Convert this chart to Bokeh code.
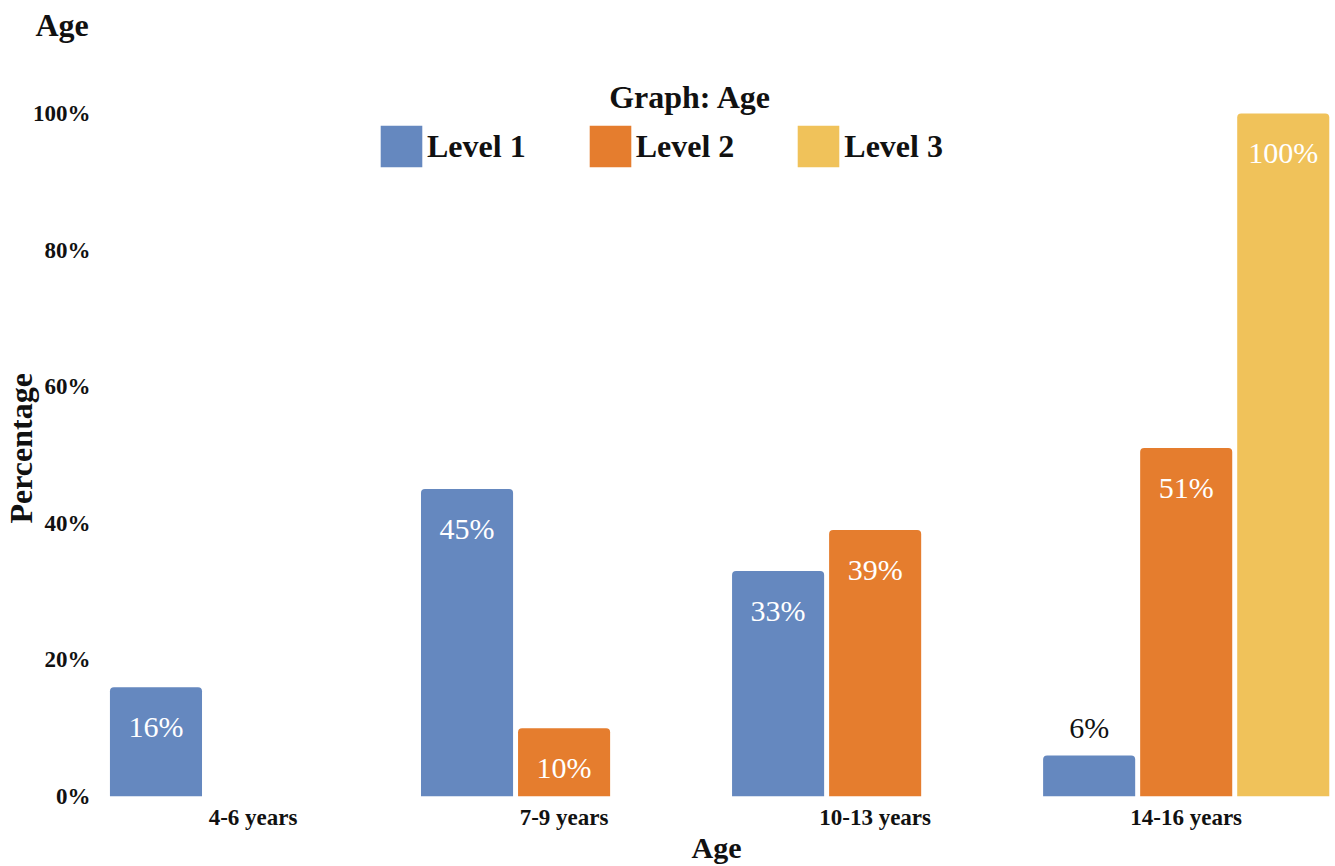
from bokeh.plotting import figure
from bokeh.models import ColumnDataSource, Range1d, FixedTicker, Label, Title
from bokeh.core.properties import value
from bokeh.embed import file_html
from bokeh.resources import INLINE

# Share of children at each level, by age group (percent)
categories = ["4-6 years", "7-9 years", "10-13 years", "14-16 years"]
series_names = ["Level 1", "Level 2", "Level 3"]
level_1 = [16, 45, 33, 6]
level_2 = [0, 10, 39, 51]
level_3 = [0, 0, 0, 100]
y_ticks = [0, 20, 40, 60, 80, 100]
y_tick_labels = ["0%", "20%", "40%", "60%", "80%", "100%"]
colors = ["#6588BF", "#E57D2E", "#F0C25A"]

FONT = "Liberation Serif"
INK = "#111111"
BAR_W = 0.296
STEP = 0.312

p = figure(width=1335, height=866, output_backend="svg", toolbar_location=None,
           x_range=Range1d(-0.5, 3.48), y_range=Range1d(0, 109.5),
           min_border_left=97, min_border_right=0, min_border_top=48,
           min_border_bottom=69)
p.outline_line_color = None
p.xgrid.visible = False
p.ygrid.visible = False
p.background_fill_color = "white"
p.border_fill_color = "white"

# bars, dodged around each category position
lab_x, lab_y, lab_text, lab_color, lab_dy = [], [], [], [], []
for i, (name, vals, color) in enumerate(zip(series_names, [level_1, level_2, level_3], colors)):
    offset = (i - 1) * STEP
    xs = [k + offset for k, v in enumerate(vals) if v > 0]
    tops = [v for v in vals if v > 0]
    src = ColumnDataSource(dict(x=xs, top=tops))
    p.vbar(x="x", top="top", width=BAR_W, source=src, fill_color=color,
           line_color=None, border_radius=(4, 4, 0, 0), legend_label=name)
    for x, v in zip(xs, tops):
        inside = v >= 8
        lab_x.append(x)
        lab_y.append(v)
        lab_text.append(f"{v}%")
        lab_color.append("white" if inside else INK)
        lab_dy.append(39 if inside else -28)

labels = ColumnDataSource(dict(x=lab_x, y=lab_y, text=lab_text, color=lab_color, dy=lab_dy))
p.text(x="x", y="y", text="text", source=labels, text_color="color", y_offset="dy",
       text_align="center", text_baseline="middle", text_font=value(FONT),
       text_font_size="30px")

# axes
p.xaxis.ticker = FixedTicker(ticks=list(range(len(categories))))
p.xaxis.major_label_overrides = {i: c for i, c in enumerate(categories)}
p.yaxis.ticker = FixedTicker(ticks=y_ticks)
p.yaxis.major_label_overrides = dict(zip(y_ticks, y_tick_labels))
for ax in (p.xaxis[0], p.yaxis[0]):
    ax.axis_line_color = None
    ax.major_tick_line_color = None
    ax.minor_tick_line_color = None
    ax.major_tick_out = 0
    ax.major_tick_in = 0
    ax.minor_tick_out = 0
    ax.major_label_text_font = FONT
    ax.major_label_text_font_style = "bold"
    ax.major_label_text_font_size = "23px"
    ax.major_label_text_color = INK
    ax.axis_label_text_font = FONT
    ax.axis_label_text_font_style = "bold"
    ax.axis_label_text_color = INK
p.xaxis.axis_label = "Age"
p.xaxis.axis_label_text_font_size = "30px"
p.xaxis.major_label_standoff = 8
p.xaxis.axis_label_standoff = -2
p.yaxis.major_label_standoff = 7

# y axis title, placed along the 0-100 span
p.add_layout(Title(text="Percentage", align="left", offset=273, vertical_align="middle",
                   standoff=-21, text_font=FONT, text_font_style="bold",
                   text_font_size="32px", text_color=INK), "left")

# page heading
p.title.text = "Age"
p.title.text_font = FONT
p.title.text_font_style = "bold"
p.title.text_font_size = "32px"
p.title.text_color = INK
p.title.align = "left"
p.title.offset = -62
p.title.vertical_align = "middle"
p.title.standoff = 10

# legend with its heading
leg = p.legend[0]
leg.orientation = "horizontal"
leg.location = (278, 624)
leg.glyph_width = 52
leg.glyph_height = 52
leg.label_height = 52
leg.label_text_font = FONT
leg.label_text_font_style = "bold"
leg.label_text_font_size = "32px"
leg.label_text_color = INK
leg.label_standoff = 0
leg.spacing = 58
leg.padding = 0
leg.margin = 0
leg.border_line_color = None
leg.background_fill_alpha = 0

p.add_layout(Label(x=593, y=700, x_units="screen", y_units="screen", text="Graph: Age",
                   text_align="center", text_baseline="middle", text_font=FONT,
                   text_font_style="bold", text_font_size="32px", text_color=INK))

open("out.html", "w").write(file_html(p, INLINE))
